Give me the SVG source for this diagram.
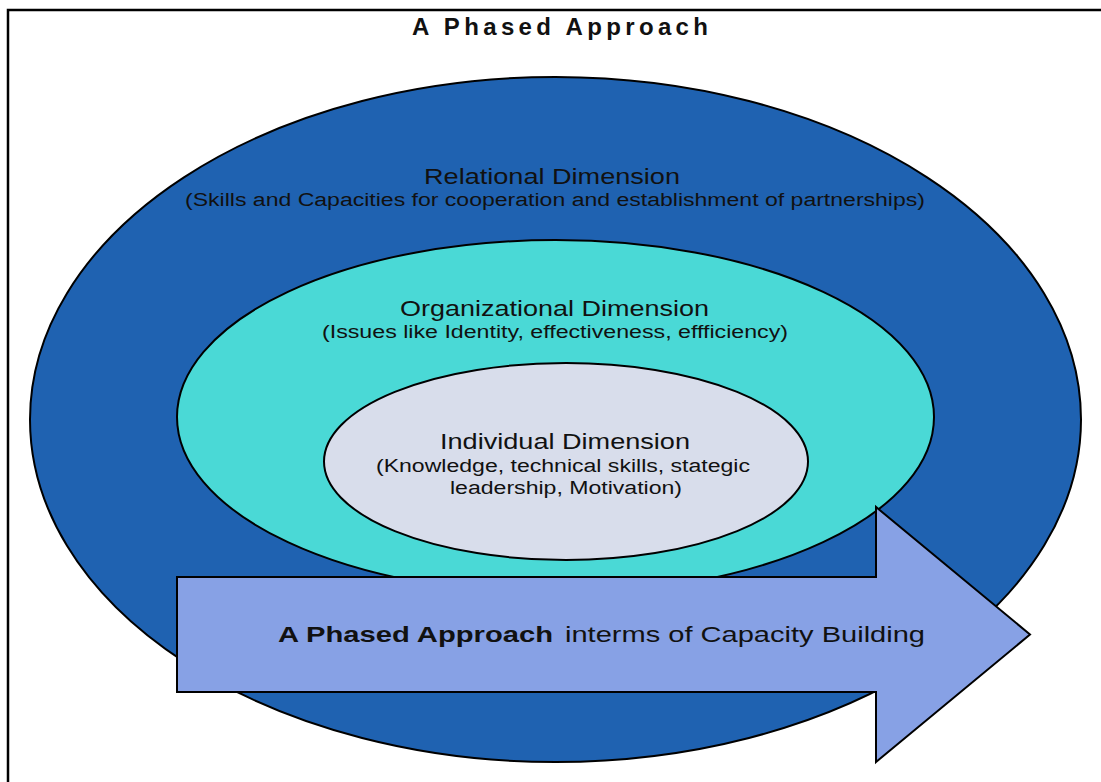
<svg xmlns="http://www.w3.org/2000/svg" width="1101" height="782" viewBox="0 0 1101 782">
<style>
.t{font-family:"Liberation Sans",Arial,sans-serif;fill:#111;}
.b{font-weight:bold;}
.sh{stroke:#000;stroke-width:2;}
</style>
<rect x="0" y="0" width="1101" height="782" fill="#fff"/>
<path d="M8,782 L8,10 L1101,10" fill="none" stroke="#000" stroke-width="2.5"/>
<text class="t b" x="412" y="35" font-size="24" textLength="296" lengthAdjust="spacing">A Phased Approach</text>
<g id="relational">
<ellipse class="sh" cx="555.5" cy="419.5" rx="525.5" ry="342.5" fill="#1F62B1"/>
<text class="t" x="424" y="184" font-size="22" textLength="256" lengthAdjust="spacingAndGlyphs">Relational Dimension</text>
<text class="t" x="185" y="206" font-size="18" textLength="740" lengthAdjust="spacingAndGlyphs">(Skills and Capacities for cooperation and establishment of partnerships)</text>
</g>
<g id="organizational">
<ellipse class="sh" cx="555.5" cy="417" rx="378.5" ry="177" fill="#4AD9D6"/>
<text class="t" x="400" y="316" font-size="22" textLength="309" lengthAdjust="spacingAndGlyphs">Organizational Dimension</text>
<text class="t" x="322" y="338" font-size="18" textLength="466" lengthAdjust="spacingAndGlyphs">(Issues like Identity, effectiveness, effficiency)</text>
</g>
<g id="individual">
<ellipse class="sh" cx="566" cy="461.5" rx="242" ry="98.5" fill="#D8DDEB"/>
<text class="t" x="440" y="449" font-size="22" textLength="250" lengthAdjust="spacingAndGlyphs">Individual Dimension</text>
<text class="t" x="376" y="472" font-size="18" textLength="374" lengthAdjust="spacingAndGlyphs">(Knowledge, technical skills, stategic</text>
<text class="t" x="450" y="494" font-size="18" textLength="232" lengthAdjust="spacingAndGlyphs">leadership, Motivation)</text>
</g>
<g id="connectors">
<g id="arrow">
<path class="sh" d="M177,577 L876,577 L876,507 L1030,634.5 L876,762 L876,692 L177,692 Z" fill="#87A1E5" stroke-linejoin="miter"/>
<text class="t" y="642" font-size="22"><tspan class="b" x="278" textLength="275" lengthAdjust="spacingAndGlyphs">A Phased Approach</tspan><tspan x="565" textLength="360" lengthAdjust="spacingAndGlyphs">interms of Capacity Building</tspan></text>
</g>
</g>
</svg>
